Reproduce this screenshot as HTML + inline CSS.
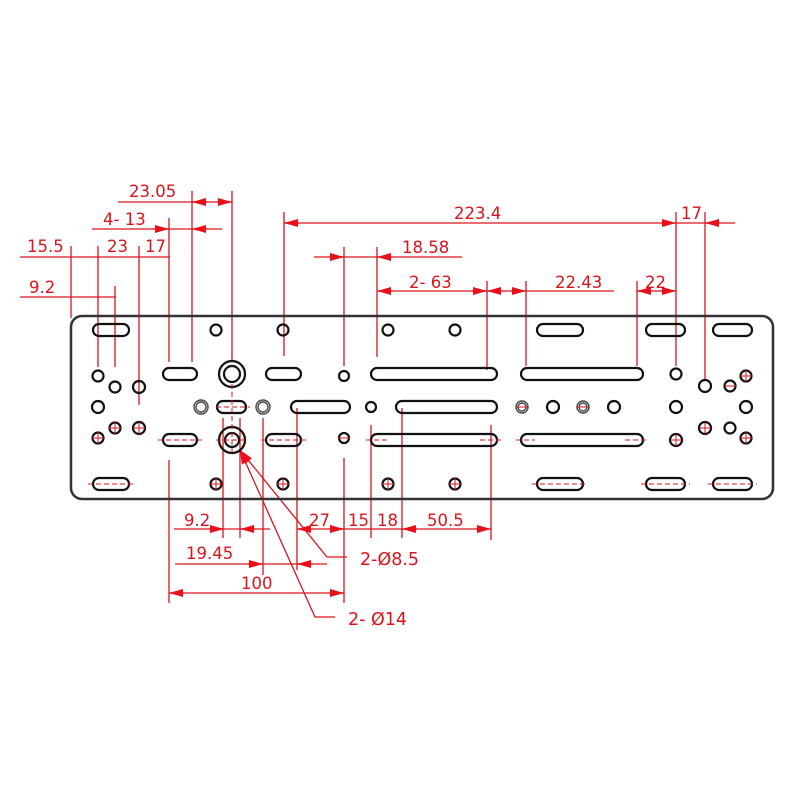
<!DOCTYPE html>
<html><head><meta charset="utf-8"><style>
html,body{margin:0;padding:0;background:#fff;}
svg{display:block;}
text{font-family:"DejaVu Sans","Liberation Sans",sans-serif;font-size:16.5px;fill:#d9141b;}
</style></head><body>
<svg width="800" height="800" viewBox="0 0 800 800" xmlns="http://www.w3.org/2000/svg">
<defs>
<marker id="a" markerUnits="userSpaceOnUse" markerWidth="14" markerHeight="8" refX="14" refY="4" orient="auto">
<path d="M0,0 L14,4 L0,8 z" fill="#e8101a"/></marker>
</defs>
<rect width="800" height="800" fill="#fff"/>

<g stroke="#d9141b" stroke-width="1.3" fill="none">
<line x1="232" y1="191" x2="232" y2="362"/>
<line x1="192" y1="191" x2="192" y2="362"/>
<line x1="169" y1="218" x2="169" y2="362"/>
<line x1="71" y1="246" x2="71" y2="318"/>
<line x1="98" y1="246" x2="98" y2="367"/>
<line x1="139" y1="246" x2="139" y2="405"/>
<line x1="115" y1="286" x2="115" y2="367"/>
<line x1="284" y1="212" x2="284" y2="356"/>
<line x1="344" y1="247" x2="344" y2="366"/>
<line x1="377" y1="247" x2="377" y2="357"/>
<line x1="487" y1="281" x2="487" y2="370"/>
<line x1="526" y1="281" x2="526" y2="366"/>
<line x1="637" y1="281" x2="637" y2="366"/>
<line x1="676" y1="212" x2="676" y2="366"/>
<line x1="705" y1="212" x2="705" y2="380"/>
<line x1="118" y1="202" x2="232" y2="202"/>
<line x1="92" y1="229" x2="222" y2="229"/>
<line x1="20" y1="257" x2="170" y2="257"/>
<line x1="20" y1="297" x2="116" y2="297"/>
<line x1="284" y1="223" x2="735" y2="223"/>
<line x1="314" y1="257" x2="462" y2="257"/>
<line x1="377" y1="291" x2="614" y2="291"/>
<line x1="637" y1="291" x2="676" y2="291"/>
<line x1="169" y1="460" x2="169" y2="603"/>
<line x1="223" y1="418" x2="223" y2="538"/>
<line x1="240" y1="418" x2="240" y2="538"/>
<line x1="263" y1="418" x2="263" y2="575"/>
<line x1="297" y1="408" x2="297" y2="570"/>
<line x1="344" y1="458" x2="344" y2="603"/>
<line x1="371" y1="425" x2="371" y2="538"/>
<line x1="402" y1="408" x2="402" y2="538"/>
<line x1="491" y1="425" x2="491" y2="540"/>
<line x1="174" y1="529" x2="270" y2="529"/>
<line x1="297" y1="529" x2="491" y2="529"/>
<line x1="175" y1="564" x2="327" y2="564"/>
<line x1="169" y1="593" x2="344" y2="593"/>
<polyline points="240,450 327,557 347,557"/>
<polyline points="240,450 315,617 335,617"/>
</g>

<g stroke="#e8101a" stroke-width="1.3" marker-end="url(#a)">
<line x1="207" y1="202" x2="192" y2="202"/>
<line x1="217" y1="202" x2="232" y2="202"/>
<line x1="154" y1="229" x2="169" y2="229"/>
<line x1="207" y1="229" x2="192" y2="229"/>
<line x1="299" y1="223" x2="284" y2="223"/>
<line x1="661" y1="223" x2="676" y2="223"/>
<line x1="720" y1="223" x2="705" y2="223"/>
<line x1="329" y1="257" x2="344" y2="257"/>
<line x1="392" y1="257" x2="377" y2="257"/>
<line x1="392" y1="291" x2="377" y2="291"/>
<line x1="472" y1="291" x2="487" y2="291"/>
<line x1="502" y1="291" x2="487" y2="291"/>
<line x1="511" y1="291" x2="526" y2="291"/>
<line x1="652" y1="291" x2="637" y2="291"/>
<line x1="661" y1="291" x2="676" y2="291"/>
<line x1="209" y1="529" x2="224" y2="529"/>
<line x1="255" y1="529" x2="240" y2="529"/>
<line x1="312" y1="529" x2="297" y2="529"/>
<line x1="329" y1="529" x2="344" y2="529"/>
<line x1="417" y1="529" x2="402" y2="529"/>
<line x1="476" y1="529" x2="491" y2="529"/>
<line x1="248" y1="564" x2="263" y2="564"/>
<line x1="312" y1="564" x2="297" y2="564"/>
<line x1="184" y1="593" x2="169" y2="593"/>
<line x1="329" y1="593" x2="344" y2="593"/>
<line x1="249" y1="461" x2="240" y2="450"/>
<line x1="246" y1="464" x2="240" y2="450"/>
</g>

<text x="129" y="197">23.05</text>
<text x="103" y="225">4- 13</text>
<text x="27" y="252">15.5</text>
<text x="107" y="252">23</text>
<text x="145" y="252">17</text>
<text x="29" y="293">9.2</text>
<text x="454" y="219">223.4</text>
<text x="681" y="219">17</text>
<text x="402" y="253">18.58</text>
<text x="409" y="288">2- 63</text>
<text x="555" y="288">22.43</text>
<text x="645" y="288">22</text>
<text x="184" y="526">9.2</text>
<text x="309" y="526">27</text>
<text x="348" y="526">15</text>
<text x="377" y="526">18</text>
<text x="427" y="526">50.5</text>
<text x="186" y="559">19.45</text>
<text x="241" y="589">100</text>
<text x="360" y="565" style="font-size:17.5px">2-Ø8.5</text>
<text x="348" y="625" style="font-size:17.5px">2- Ø14</text>

<rect x="71" y="316" width="702" height="183" rx="11" fill="none" stroke="#333" stroke-width="2.5"/>

<g fill="none" stroke="#111" stroke-width="2.2">
<rect x="93" y="324" width="36" height="12" rx="6"/>
<rect x="537" y="324" width="46" height="12" rx="6"/>
<rect x="646" y="324" width="39" height="12" rx="6"/>
<rect x="713" y="324" width="39" height="12" rx="6"/>
<rect x="163" y="368" width="34" height="12" rx="6"/>
<rect x="266" y="368" width="35" height="12" rx="6"/>
<rect x="371" y="368" width="126" height="12" rx="6"/>
<rect x="521" y="368" width="122" height="12" rx="6"/>
<rect x="217" y="401" width="29" height="12" rx="6"/>
<rect x="291" y="401" width="59" height="12" rx="6"/>
<rect x="396" y="401" width="101" height="12" rx="6"/>
<rect x="163" y="434" width="34" height="12" rx="6"/>
<rect x="266" y="434" width="35" height="12" rx="6"/>
<rect x="371" y="434" width="126" height="12" rx="6"/>
<rect x="521" y="434" width="122" height="12" rx="6"/>
<rect x="93" y="478" width="36" height="12" rx="6"/>
<rect x="537" y="478" width="46" height="12" rx="6"/>
<rect x="646" y="478" width="39" height="12" rx="6"/>
<rect x="713" y="478" width="39" height="12" rx="6"/>
<circle cx="232" cy="374" r="13"/><circle cx="232" cy="374" r="8"/>
<circle cx="232" cy="440" r="13"/><circle cx="232" cy="440" r="7"/>
<circle cx="216" cy="330" r="5.5"/><circle cx="283" cy="330" r="5.5"/>
<circle cx="388" cy="330" r="5.5"/><circle cx="455" cy="330" r="5.5"/>
<circle cx="98" cy="376" r="5.5"/><circle cx="115" cy="387" r="5.5"/>
<circle cx="139" cy="387" r="6"/><circle cx="344" cy="376" r="5"/>
<circle cx="676" cy="374" r="5.5"/><circle cx="705" cy="386" r="6"/>
<circle cx="730" cy="386" r="5.5"/><circle cx="746" cy="376" r="5.5"/>
<circle cx="98" cy="407" r="6"/>
<circle cx="371" cy="407" r="5"/>
<circle cx="553" cy="407" r="6"/>
<circle cx="614" cy="407" r="6"/>
<circle cx="676" cy="407" r="6"/><circle cx="746" cy="407" r="6"/>
<circle cx="98" cy="438" r="5.5"/><circle cx="115" cy="428" r="5.5"/>
<circle cx="139" cy="428" r="6"/><circle cx="344" cy="438" r="5"/>
<circle cx="676" cy="440" r="6"/><circle cx="705" cy="428" r="6"/>
<circle cx="730" cy="428" r="5.5"/><circle cx="746" cy="438" r="5.5"/>
<circle cx="216" cy="484" r="5.5"/><circle cx="283" cy="484" r="5.5"/>
<circle cx="388" cy="484" r="5.5"/><circle cx="455" cy="484" r="5.5"/>
</g>
<g fill="none" stroke="#444" stroke-width="1.4">
<circle cx="201" cy="407" r="7"/><circle cx="201" cy="407" r="5"/>
<circle cx="263" cy="407" r="7"/><circle cx="263" cy="407" r="5"/>
<circle cx="522" cy="407" r="6"/><circle cx="522" cy="407" r="4"/>
<circle cx="583" cy="407" r="6"/><circle cx="583" cy="407" r="4"/>
</g>

<g stroke="#d9141b" stroke-width="1" stroke-dasharray="5,3">
<line x1="88" y1="484" x2="134" y2="484"/>
<line x1="158" y1="440" x2="202" y2="440"/>
<line x1="261" y1="440" x2="306" y2="440"/>
<line x1="366" y1="440" x2="390" y2="440"/>
<line x1="516" y1="440" x2="535" y2="440"/>
<line x1="625" y1="440" x2="648" y2="440"/>
<line x1="480" y1="440" x2="502" y2="440"/>
<line x1="532" y1="484" x2="588" y2="484"/>
<line x1="641" y1="484" x2="690" y2="484"/>
<line x1="708" y1="484" x2="757" y2="484"/>
<line x1="216" y1="407" x2="250" y2="407"/>
<line x1="216" y1="440" x2="248" y2="440"/>
<line x1="232" y1="424" x2="232" y2="456"/>
<line x1="232" y1="384" x2="232" y2="430"/>
</g>
<g stroke="#d9141b" stroke-width="1">
<line x1="210" y1="484" x2="222" y2="484"/><line x1="216" y1="478" x2="216" y2="490"/>
<line x1="277" y1="484" x2="289" y2="484"/><line x1="283" y1="478" x2="283" y2="490"/>
<line x1="382" y1="484" x2="394" y2="484"/><line x1="388" y1="478" x2="388" y2="490"/>
<line x1="449" y1="484" x2="461" y2="484"/><line x1="455" y1="478" x2="455" y2="490"/>
<line x1="92" y1="438" x2="104" y2="438"/><line x1="98" y1="432" x2="98" y2="444"/>
<line x1="109" y1="428" x2="121" y2="428"/><line x1="115" y1="422" x2="115" y2="434"/>
<line x1="133" y1="428" x2="145" y2="428"/><line x1="139" y1="422" x2="139" y2="434"/>
<line x1="338" y1="438" x2="350" y2="438"/>
<line x1="670" y1="440" x2="682" y2="440"/><line x1="676" y1="434" x2="676" y2="446"/>
<line x1="699" y1="428" x2="711" y2="428"/><line x1="705" y1="422" x2="705" y2="434"/>
<line x1="740" y1="438" x2="752" y2="438"/><line x1="746" y1="432" x2="746" y2="444"/>
<line x1="516" y1="407" x2="528" y2="407"/>
<line x1="577" y1="407" x2="589" y2="407"/>
<line x1="740" y1="376" x2="752" y2="376"/><line x1="746" y1="370" x2="746" y2="382"/>
<line x1="724" y1="386" x2="736" y2="386"/>
</g>
</svg>
</body></html>
